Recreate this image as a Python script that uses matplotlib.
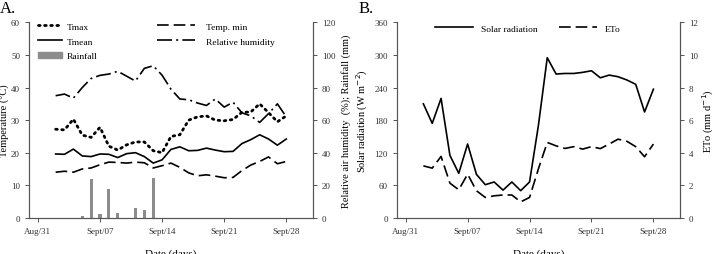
import numpy as np
import matplotlib.pyplot as plt
from matplotlib.patches import Patch
from matplotlib.lines import Line2D

plt.rcParams['font.family'] = ['Liberation Serif', 'DejaVu Serif']

# days counted from Aug 31
days = list(range(2, 29))
tick_days = [0, 7, 14, 21, 28]
tick_labels = ['Aug/31', 'Sept/07', 'Sept/14', 'Sept/21', 'Sept/28']

tmax = [27.2, 27.0, 30.3, 25.4, 24.7, 27.8, 22.0, 20.8, 22.4, 23.3, 23.3, 20.6, 20.0,
        25.0, 25.5, 30.0, 31.0, 31.3, 30.0, 29.8, 30.2, 32.4, 32.5, 35.0, 32.3, 29.5, 31.3]
tmean = [19.6, 19.5, 21.1, 19.0, 18.8, 19.6, 19.5, 18.5, 19.7, 20.0, 18.8, 16.8, 17.8,
         21.0, 21.8, 20.6, 20.7, 21.4, 20.8, 20.3, 20.4, 22.8, 24.0, 25.5, 24.2, 22.3, 24.2]
tmin = [14.0, 14.3, 14.0, 15.0, 15.3, 16.3, 17.1, 17.0, 16.8, 17.1, 16.9, 15.3, 16.0,
        16.8, 15.5, 13.8, 12.9, 13.2, 12.8, 12.3, 12.4, 14.5, 16.2, 17.3, 18.7, 16.6, 17.3]
rh = [75, 76, 73.5, 80, 85.6, 87.5, 88.3, 90, 87, 84, 91.8, 93.4, 87.6,
      79, 73, 72.5, 70.5, 69, 73, 68, 71, 64.5, 62.6, 58.6, 64, 70, 62]
rain_days = [5, 6, 7, 8, 9, 11, 12, 13]
rain = [1.4, 23.8, 2.3, 17.8, 3.0, 6.2, 4.7, 24.4]

solar = [210, 174, 220, 115, 82, 136, 80, 61, 66, 51, 66, 50, 66,
         170, 295, 265, 266, 266, 268, 271, 258, 263, 260, 254, 246, 195, 237]
eto = [3.19, 3.05, 3.77, 2.13, 1.72, 2.68, 1.66, 1.25, 1.35, 1.4, 1.4, 0.98, 1.25,
       3.0, 4.63, 4.42, 4.26, 4.37, 4.22, 4.37, 4.25, 4.53, 4.83, 4.7, 4.37, 3.75, 4.53]

fig = plt.figure(figsize=(7.15, 2.55), dpi=100)
axA = fig.add_axes([0.0406, 0.142, 0.397, 0.766])
axB = fig.add_axes([0.555, 0.142, 0.396, 0.766])
axA2 = axA.twinx()
axB2 = axB.twinx()

spine_col = '#555555'
for ax in (axA, axA2, axB, axB2):
    ax.spines['top'].set_visible(False)
    for s in ('left', 'right', 'bottom'):
        ax.spines[s].set_color(spine_col)
        ax.spines[s].set_linewidth(0.8)
    ax.tick_params(labelsize=6.5, colors='#333333', length=3, width=0.7,
                   color=spine_col, direction='out')

lw = 1.2
dot_ls = (0, (0.6, 1.6))
dash_ls = (0, (7, 3))
dashdot_ls = (0, (9, 2.5, 1.2, 2.5))

# panel A
axA.plot(days, tmax, color='black', lw=2.0, ls=dot_ls, dash_capstyle='round')
axA.plot(days, tmean, color='black', lw=lw)
axA.plot(days, tmin, color='black', lw=lw, ls=dash_ls)
axA2.bar(rain_days, rain, width=0.35, color='#8c8c8c')
axA2.plot(days, rh, color='black', lw=lw, ls=dashdot_ls)
axA.set_xlim(-1, 31)
axA.set_ylim(0, 60)
axA.set_yticks(range(0, 61, 10))
axA2.set_ylim(0, 120)
axA2.set_yticks(range(0, 121, 20))
axA.set_xticks(tick_days)
axA.set_xticklabels(tick_labels)
axA.set_ylabel('Temperature (°C)', fontsize=7.5, labelpad=1)
axA2.set_ylabel('Relative air humidity  (%); Rainfall (mm)', fontsize=7.5, labelpad=4)
axA.set_xlabel('Date (days)', fontsize=8, labelpad=10)

# two legend columns with different handle lengths
leg1 = axA.legend([Line2D([], [], color='black', lw=2.0, ls=dot_ls, dash_capstyle='round'),
                   Line2D([], [], color='black', lw=lw),
                   Patch(color='#8c8c8c')],
                  ['Tmax', 'Tmean', 'Rainfall'], frameon=False, fontsize=6.8,
                  loc='upper left', bbox_to_anchor=(0.0, 1.045), handlelength=2.6,
                  handletextpad=0.5, labelspacing=0.65)
axA.add_artist(leg1)
axA.legend([Line2D([], [], color='black', lw=lw, ls=dash_ls),
            Line2D([], [], color='black', lw=lw, ls=dashdot_ls)],
           ['Temp. min', 'Relative humidity'], frameon=False, fontsize=6.8,
           loc='upper left', bbox_to_anchor=(0.42, 1.045), handlelength=4.0,
           handletextpad=1.2, labelspacing=0.65)

# panel B
axB.plot(days, solar, color='black', lw=lw)
axB2.plot(days, eto, color='black', lw=lw, ls=dash_ls)
axB.set_xlim(-1, 31)
axB.set_ylim(0, 360)
axB.set_yticks(range(0, 361, 60))
axB2.set_ylim(0, 12)
axB2.set_yticks(range(0, 13, 2))
axB.set_xticks(tick_days)
axB.set_xticklabels(tick_labels)
axB.set_ylabel('Solar radiation (W m$^{-2}$)', fontsize=7.5, labelpad=3)
axB2.set_ylabel('ETo (mm d$^{-1}$)', fontsize=7.5, labelpad=2)
axB.set_xlabel('Date (days)', fontsize=8, labelpad=10)

handlesB = [Line2D([], [], color='black', lw=lw),
            Line2D([], [], color='black', lw=lw, ls=dash_ls)]
axB.legend(handlesB, ['Solar radiation', 'ETo'], ncol=2, frameon=False, fontsize=6.8,
           loc='upper left', bbox_to_anchor=(0.105, 1.035), handlelength=4.0,
           columnspacing=2.2, handletextpad=0.9)

fig.text(0.0, 0.995, 'A.', fontsize=12, va='top', ha='left')
fig.text(0.502, 0.995, 'B.', fontsize=12, va='top', ha='left')

fig.savefig('out.png', dpi=100)
